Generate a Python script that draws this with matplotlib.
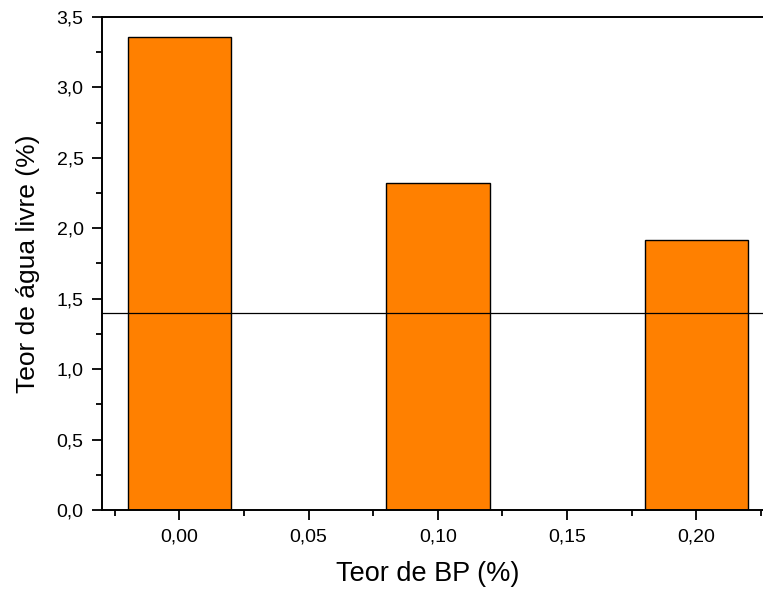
import numpy as np
import matplotlib.pyplot as plt
from matplotlib.ticker import MultipleLocator, FuncFormatter

plt.rcParams['font.family'] = ['Liberation Sans', 'DejaVu Sans']

teor_bp = [0.00, 0.10, 0.20]
agua_livre = [3.36, 2.32, 1.92]
linha_ref = 1.4

fig = plt.figure(figsize=(7.63, 5.92), dpi=100)
ax = fig.add_axes([0.1333, 0.1385, 0.881, 0.8328])

ax.bar(teor_bp, agua_livre, width=0.04, color='#FF8000', edgecolor='black', linewidth=1.0, zorder=2)
ax.axhline(linha_ref, color='black', linewidth=0.9, zorder=3)

ax.set_xlim(-0.03, 0.23)
ax.set_ylim(0, 3.5)
ax.xaxis.set_major_locator(MultipleLocator(0.05))
ax.xaxis.set_minor_locator(MultipleLocator(0.025))
ax.yaxis.set_major_locator(MultipleLocator(0.5))
ax.yaxis.set_minor_locator(MultipleLocator(0.25))
ax.xaxis.set_major_formatter(FuncFormatter(lambda v, p: f'{v:.2f}'.replace('.', ',').replace('-0,00', '0,00')))
ax.yaxis.set_major_formatter(FuncFormatter(lambda v, p: f'{v:.1f}'.replace('.', ',')))

ax.tick_params(which='major', direction='out', length=7, width=1.3, labelsize=14, pad=6)
ax.tick_params(which='minor', direction='out', length=4, width=1.3)
for s in ax.spines.values():
    s.set_linewidth(1.4)

ax.set_xlabel('Teor de BP (%)', fontsize=19.5)
ax.xaxis.set_label_coords(0.485, -0.103)
ax.set_ylabel('Teor de água livre (%)', fontsize=19, labelpad=12)

fig.savefig('out.png', dpi=100)
